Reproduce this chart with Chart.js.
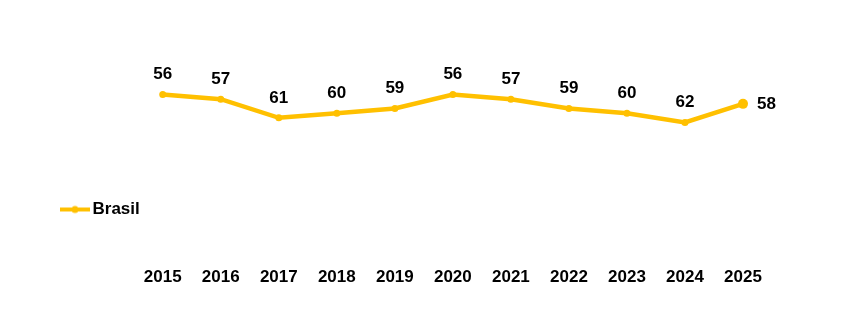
<!DOCTYPE html>
<html>
<head>
<meta charset="utf-8">
<script src="https://cdn.jsdelivr.net/npm/chart.js@4"></script>
<style>
  html, body { margin: 0; padding: 0; background: #fff; }
  #wrap { width: 843px; height: 335px; }
</style>
</head>
<body>
<div id="wrap"><canvas id="chart"></canvas></div>
<script>
// ── Data ──────────────────────────────────────────────────────────────────────
const YEARS = ['2015', '2016', '2017', '2018', '2019', '2020', '2021', '2022', '2023', '2024', '2025'];
const BRASIL = [56, 57, 61, 60, 59, 56, 57, 59, 60, 62, 58];
const SERIES_NAME = 'Brasil';

const GOLD = '#FFC000';
const FONT = "'Liberation Sans', Arial, sans-serif";

// ── Legend symbol: line with a dot in the middle ──────────────────────────────
function legendSymbol() {
  const c = document.createElement('canvas');
  c.width = 30;
  c.height = 10;
  const g = c.getContext('2d');
  g.strokeStyle = GOLD;
  g.lineWidth = 4;
  g.beginPath();
  g.moveTo(0, 5);
  g.lineTo(30, 5);
  g.stroke();
  g.fillStyle = GOLD;
  g.beginPath();
  g.arc(15, 5, 3.5, 0, Math.PI * 2);
  g.fill();
  return c;
}

// ── Value labels above each point (last one to the right) ────────────────────
const valueLabels = {
  id: 'valueLabels',
  afterDatasetsDraw(chart) {
    const ctx = chart.ctx;
    const meta = chart.getDatasetMeta(0);
    const data = chart.data.datasets[0].data;
    ctx.save();
    ctx.font = `bold 17px ${FONT}`;
    ctx.fillStyle = '#000';
    ctx.textBaseline = 'middle';
    meta.data.forEach((pt, i) => {
      if (i === data.length - 1) {
        ctx.textAlign = 'left';
        ctx.fillText(data[i], pt.x + 14, pt.y);
      } else {
        ctx.textAlign = 'center';
        ctx.fillText(data[i], pt.x, pt.y - 20);
      }
    });
    ctx.restore();
  }
};

// ── Lift the left legend so its item sits just under the line ────────────────
const legendLift = {
  id: 'legendLift',
  afterLayout(chart) {
    if (chart.legend) chart.legend.bottom = 236;
  }
};

const symbol = legendSymbol();

new Chart(document.getElementById('chart'), {
  type: 'line',
  data: {
    labels: YEARS,
    datasets: [{
      label: SERIES_NAME,
      data: BRASIL,
      borderColor: GOLD,
      backgroundColor: GOLD,
      borderWidth: 4.5,
      tension: 0,
      pointRadius: BRASIL.map((v, i) => i === BRASIL.length - 1 ? 5 : 3.5),
      pointBorderWidth: 0,
      pointBackgroundColor: GOLD,
      pointStyle: 'circle',
      clip: false,
    }]
  },
  options: {
    responsive: true,
    maintainAspectRatio: false,
    animation: false,
    layout: { padding: { left: 48, right: 100, top: 20, bottom: 48 } },
    plugins: {
      tooltip: { enabled: false },
      legend: {
        position: 'left',
        align: 'end',
        labels: {
          usePointStyle: true,
          pointStyleWidth: 18,
          padding: 18,
          color: '#000',
          font: { family: FONT, size: 17, weight: 'bold' },
          generateLabels: chart => [{
            text: SERIES_NAME,
            pointStyle: symbol,
            fillStyle: GOLD,
            strokeStyle: GOLD,
            lineWidth: 0,
            datasetIndex: 0,
          }],
        },
      },
    },
    scales: {
      x: {
        offset: false,
        grid: { display: false, drawTicks: false },
        border: { display: false },
        ticks: {
          autoSkip: false,
          maxRotation: 0,
          padding: 42,
          color: '#000',
          font: { family: FONT, size: 17, weight: 'bold' },
        },
        afterFit: scale => { scale.height = 62; },
      },
      y: {
        reverse: true,
        min: 40,
        max: 84,
        grid: { display: false, drawTicks: false },
        border: { display: false },
        ticks: { display: false },
        afterFit: scale => { scale.width = 13; },
      },
    },
  },
  plugins: [valueLabels, legendLift],
});
</script>
</body>
</html>
